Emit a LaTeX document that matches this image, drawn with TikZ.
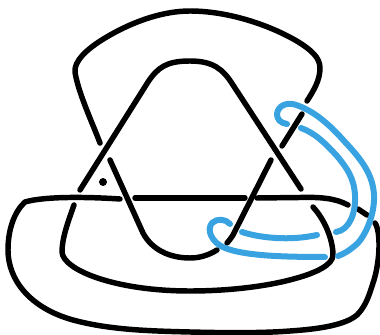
\documentclass[tikz,border=0pt]{standalone}
\definecolor{knotblue}{RGB}{56,163,224}
\tikzset{
  blk/.style={line width=4.1pt,black,line cap=round,line join=round},
  blu/.style={line width=4.5pt,knotblue,line cap=round,line join=round}
}
\begin{document}
\begin{tikzpicture}[x=0.75pt,y=-0.75pt]
\useasboundingbox (0,0) rectangle (380,335);
% outer top arc
\draw[blk] (100,143) .. controls (92,122) and (78,92) .. (75,72)
  .. controls (74,62) and (85,50) .. (105,38)
  .. controls (135,20) and (165,11) .. (190,11)
  .. controls (225,11) and (265,23) .. (295,40)
  .. controls (312,50) and (320,58) .. (320,68)
  .. controls (320,80) and (314,90) .. (307,101);
\draw[blk] (282,146) -- (302,114);
% inner triangle
\draw[blk] (80,190) -- (148,82)
  .. controls (158,67) and (167,61) .. (190,61)
  .. controls (213,61) and (223,69) .. (233,85) -- (301,189);
% left diagonal into bottom bowl
\draw[blk] (110,160) -- (143,233)
  .. controls (152,250) and (170,258) .. (190,258)
  .. controls (200,258) and (209,255) .. (217,250);
% right diagonal
\draw[blk] (271,160) -- (233,235) .. controls (231,238) and (229,241) .. (227,243);
% horizontal and outer loop
\draw[blk] (120,199) .. controls (90,197) and (45,196) .. (25,202)
  .. controls (14,212) and (8,230) .. (8,250)
  .. controls (8,280) and (30,308) .. (73,320)
  .. controls (110,330) and (150,331) .. (190,332)
  .. controls (230,333) and (265,333) .. (290,331)
  .. controls (320,329) and (345,325) .. (357,315)
  .. controls (367,305) and (370,292) .. (374,280)
  .. controls (380,260) and (381,232) .. (375,223);
\draw[blk] (135,198) -- (245,198);
\draw[blk] (257,198) -- (300,197.5) .. controls (320,197) and (335,198) .. (348,205);
\draw[blk] (358,209) -- (367,215);
% inner bowl
\draw[blk] (74,205) .. controls (68,222) and (62,238) .. (62,252)
  .. controls (63,270) and (115,291) .. (190,291)
  .. controls (230,291) and (270,286) .. (297,278)
  .. controls (315,273) and (333,265) .. (333,255)
  .. controls (333,240) and (325,220) .. (313,207);
\fill (103,182) circle (4);
% blue strands
\draw[blu] (287,124) .. controls (280,123) and (277,119) .. (277,114)
  .. controls (278,105) and (288,101) .. (299,106)
  .. controls (315,112) and (330,125) .. (345,142)
  .. controls (362,160) and (373,175) .. (374,195)
  .. controls (375,215) and (365,236) .. (357,244)
  .. controls (350,250) and (344,254) .. (338,256);
\draw[blu] (301,128) .. controls (315,133) and (325,143) .. (337,156)
  .. controls (347,168) and (354,178) .. (355,195)
  .. controls (356,212) and (350,230) .. (336,232);
\draw[blu] (230,224) .. controls (226,219) and (217,218) .. (212,223)
  .. controls (206,230) and (212,243) .. (225,248)
  .. controls (245,256) and (285,257) .. (325,257);
\draw[blu] (242,232) .. controls (260,238) and (290,241) .. (317,235);
\end{tikzpicture}
\end{document}
